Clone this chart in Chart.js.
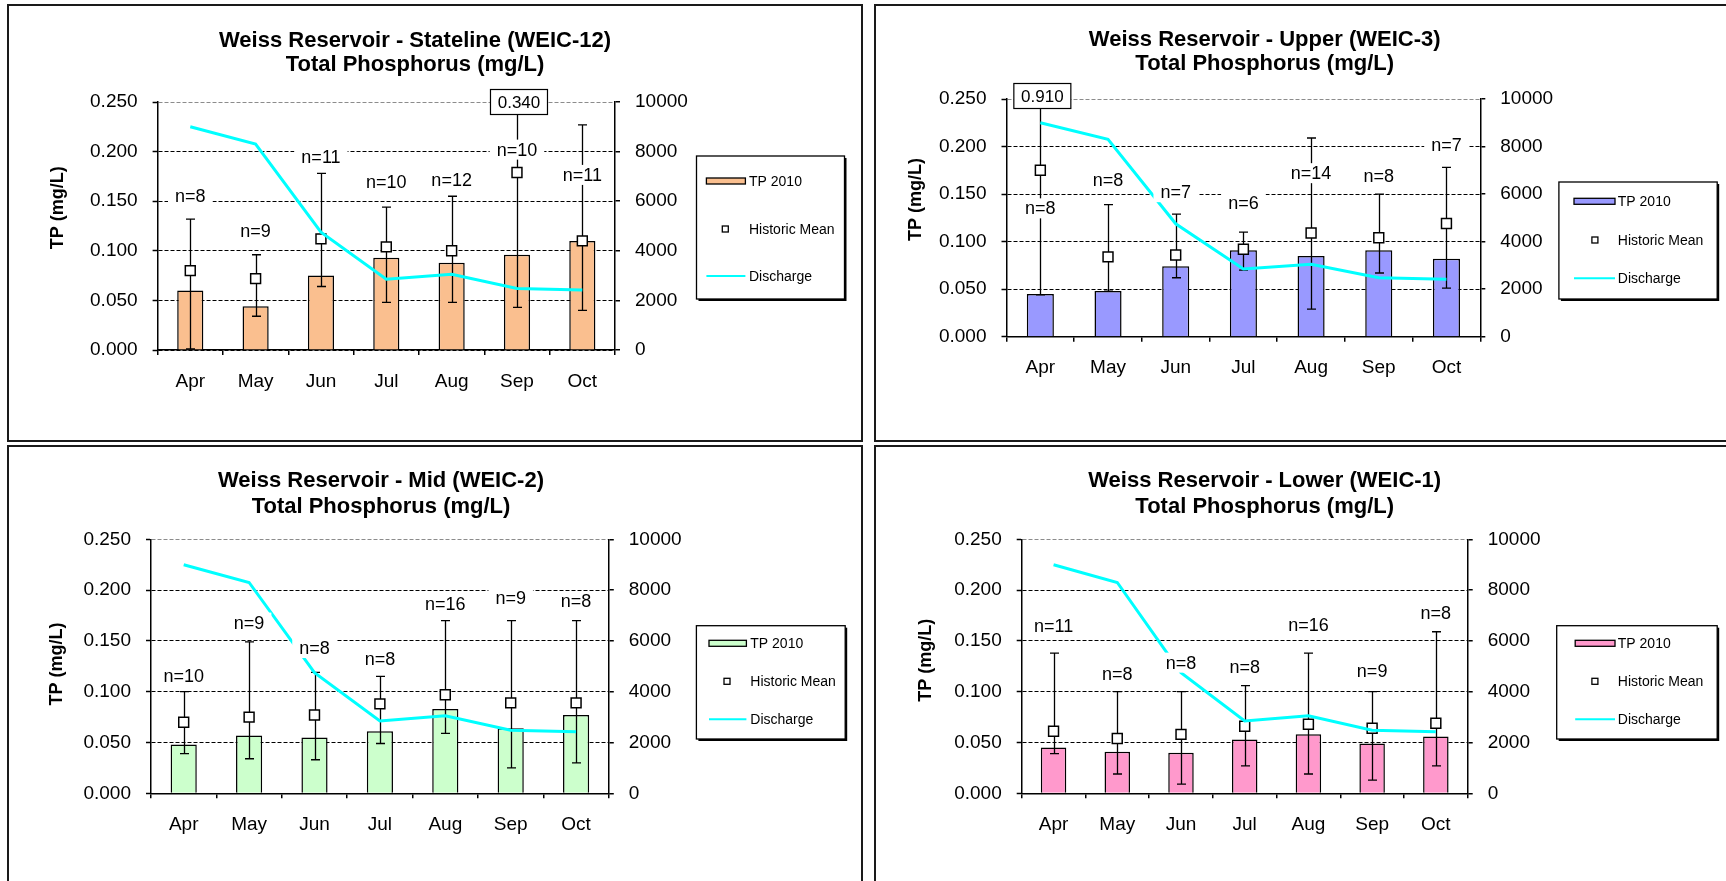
<!DOCTYPE html>
<html>
<head>
<meta charset="utf-8">
<title>Weiss Reservoir - Total Phosphorus 2010</title>
<script src="https://cdn.jsdelivr.net/npm/chart.js"></script>
<style>
  html, body { margin: 0; padding: 0; background: #fff; overflow: hidden; width: 1726px; height: 881px; }
  .panel { position: absolute; border: 2px solid #1a1a1a; box-sizing: border-box; }
  .panel canvas { position: absolute; left: -2px; top: -2px; }
</style>
</head>
<body>
<div class="panel" style="left:7px;top:4px;width:856px;height:438px"><canvas id="c12" width="856" height="438"></canvas></div>
<div class="panel" style="left:874px;top:4px;width:860px;height:438px"><canvas id="c3" width="860" height="438"></canvas></div>
<div class="panel" style="left:7px;top:445px;width:856px;height:440px"><canvas id="c2" width="856" height="440"></canvas></div>
<div class="panel" style="left:874px;top:445px;width:860px;height:440px"><canvas id="c1" width="860" height="440"></canvas></div>

<script>
// ---- data ----------------------------------------------------------------
const months = ['Apr', 'May', 'Jun', 'Jul', 'Aug', 'Sep', 'Oct'];
const tpTicks = [0, 0.05, 0.10, 0.15, 0.20, 0.25];          // mg/L, left axis
const flowTicks = [0, 2000, 4000, 6000, 8000, 10000];        // cfs, right axis

// monthly mean discharge (cfs)
const discharge = [9000, 8300, 4750, 2850, 3050, 2480, 2420];

// Stateline (WEIC-12)
const tp2010_WEIC12   = [0.060, 0.044, 0.075, 0.093, 0.088, 0.096, 0.110];
const histMean_WEIC12 = [0.080, 0.072, 0.112, 0.104, 0.100, 0.179, 0.110];
const histMin_WEIC12  = [0.001, 0.034, 0.064, 0.048, 0.048, 0.043, 0.040];
const histMax_WEIC12  = [0.132, 0.096, 0.178, 0.144, 0.155, 0.340, 0.227];
const nHist_WEIC12    = [8, 9, 11, 10, 12, 10, 11];

// Upper (WEIC-3)
const tp2010_WEIC3   = [0.045, 0.048, 0.074, 0.091, 0.085, 0.091, 0.082];
const histMean_WEIC3 = [0.175, 0.084, 0.086, 0.092, 0.109, 0.104, 0.119];
const histMin_WEIC3  = [0.044, 0.048, 0.062, 0.070, 0.029, 0.067, 0.051];
const histMax_WEIC3  = [0.910, 0.139, 0.129, 0.110, 0.209, 0.150, 0.178];
const nHist_WEIC3    = [8, 8, 7, 6, 14, 8, 7];

// Mid (WEIC-2)
const tp2010_WEIC2   = [0.048, 0.057, 0.055, 0.061, 0.083, 0.064, 0.077];
const histMean_WEIC2 = [0.070, 0.075, 0.077, 0.088, 0.097, 0.089, 0.089];
const histMin_WEIC2  = [0.039, 0.034, 0.033, 0.049, 0.059, 0.025, 0.030];
const histMax_WEIC2  = [0.100, 0.149, 0.119, 0.115, 0.170, 0.170, 0.170];
const nHist_WEIC2    = [10, 9, 8, 8, 16, 9, 8];

// Lower (WEIC-1)
const tp2010_WEIC1   = [0.045, 0.041, 0.040, 0.053, 0.058, 0.049, 0.056];
const histMean_WEIC1 = [0.061, 0.054, 0.058, 0.066, 0.068, 0.064, 0.069];
const histMin_WEIC1  = [0.039, 0.019, 0.009, 0.027, 0.019, 0.013, 0.027];
const histMax_WEIC1  = [0.138, 0.100, 0.100, 0.106, 0.138, 0.100, 0.159];
const nHist_WEIC1    = [11, 8, 8, 8, 16, 9, 8];

// ---- panel layout ---------------------------------------------------------
const FONT = '"Liberation Sans", Arial, Helvetica, sans-serif';
Chart.defaults.font.family = FONT;
Chart.defaults.color = '#000';

const panels = [
  { canvas: 'c12', title: ['Weiss Reservoir - Stateline (WEIC-12)', 'Total Phosphorus (mg/L)'],
    tp: tp2010_WEIC12, mean: histMean_WEIC12, lo: histMin_WEIC12, hi: histMax_WEIC12, n: nHist_WEIC12,
    nAt: [0.155, 0.120, 0.195, 0.169, 0.171, 0.202, 0.1765],
    fill: '#FABF8F',
    area: { left: 150.6, right: 608, top: 98, bottom: 346 },
    titleX: 408, titleY: [36.7, 60.5], yTitle: { x: 50.7, y: 203.8 }, boxDy: 0,
    legend: { x: 689.5, y: 152, w: 148, h: 143, rows: [177, 225, 272], swX: 699.4, swW: 39, textX: 742, markX: 718.3 } },
  { canvas: 'c3', title: ['Weiss Reservoir - Upper (WEIC-3)', 'Total Phosphorus (mg/L)'],
    tp: tp2010_WEIC3, mean: histMean_WEIC3, lo: histMin_WEIC3, hi: histMax_WEIC3, n: nHist_WEIC3,
    nAt: [0.135, 0.165, 0.152, 0.141, 0.172, 0.169, 0.202],
    fill: '#9999FF',
    area: { left: 132.5, right: 606.3, top: 95, bottom: 332.7 },
    titleX: 390.7, titleY: [36, 60], yTitle: { x: 41.8, y: 195.5 }, boxDy: -3,
    legend: { x: 684.9, y: 178, w: 158.3, h: 117, rows: [197.3, 236, 274.3], swX: 700, swW: 41, textX: 743.8, markX: 720.9 } },
  { canvas: 'c2', title: ['Weiss Reservoir - Mid (WEIC-2)', 'Total Phosphorus (mg/L)'],
    tp: tp2010_WEIC2, mean: histMean_WEIC2, lo: histMin_WEIC2, hi: histMax_WEIC2, n: nHist_WEIC2,
    nAt: [0.1155, 0.168, 0.143, 0.132, 0.186, 0.1926, 0.189],
    fill: '#CCFFCC',
    area: { left: 144, right: 601.8, top: 94.3, bottom: 348.3 },
    titleX: 374, titleY: [35.7, 61.7], yTitle: { x: 50, y: 219 }, boxDy: 0,
    legend: { x: 689.4, y: 180.7, w: 148.8, h: 113.3, rows: [198.3, 236.3, 274.3], swX: 702, swW: 37.4, textX: 743.3, markX: 720 } },
  { canvas: 'c1', title: ['Weiss Reservoir - Lower (WEIC-1)', 'Total Phosphorus (mg/L)'],
    tp: tp2010_WEIC1, mean: histMean_WEIC1, lo: histMin_WEIC1, hi: histMax_WEIC1, n: nHist_WEIC1,
    nAt: [0.165, 0.117, 0.1286, 0.124, 0.166, 0.120, 0.1775],
    fill: '#FF99CC',
    area: { left: 147.7, right: 593.7, top: 94.3, bottom: 348.3 },
    titleX: 390.7, titleY: [35.7, 61.7], yTitle: { x: 52.2, y: 215.3 }, boxDy: 0,
    legend: { x: 682.7, y: 180.7, w: 160.5, h: 113.3, rows: [198.3, 236.3, 274.3], swX: 701.2, swW: 39.8, textX: 743.8, markX: 720.9 } }
];

// Error bars, sample-count labels, off-scale values, titles and legend
function decor(p) {
  return {
    id: 'decor',
    beforeDatasetDraw(chart, args) {
      if (args.index !== 1) return;               // draw under the mean markers
      const { ctx, chartArea: a, scales: { x, y } } = chart;
      ctx.save();
      ctx.strokeStyle = '#000';
      ctx.lineWidth = 1.3;
      p.lo.forEach((lo, i) => {
        const cx = Math.round(x.getPixelForValue(i)) + 0.5;
        const yLo = y.getPixelForValue(lo);
        const over = p.hi[i] > y.max;
        const yHi = over ? a.top : y.getPixelForValue(p.hi[i]);
        ctx.beginPath();
        ctx.moveTo(cx, yLo); ctx.lineTo(cx, yHi);
        ctx.moveTo(cx - 4.5, yLo); ctx.lineTo(cx + 4.5, yLo);
        if (!over) { ctx.moveTo(cx - 4.5, yHi); ctx.lineTo(cx + 4.5, yHi); }
        ctx.stroke();
      });
      ctx.restore();
    },
    afterDatasetsDraw(chart) {
      const { ctx, chartArea: a, scales: { x, y } } = chart;
      ctx.save();
      ctx.textAlign = 'center';
      ctx.textBaseline = 'middle';
      ctx.font = '18px ' + FONT;
      p.n.forEach((n, i) => {
        const t = 'n=' + n;
        const cx = x.getPixelForValue(i);
        const cy = y.getPixelForValue(p.nAt[i]);
        const w = ctx.measureText(t).width + 14;
        ctx.fillStyle = '#fff';
        ctx.fillRect(cx - w / 2, cy - 10, w, 20);
        ctx.fillStyle = '#000';
        ctx.fillText(t, cx, cy + 1);
      });
      // maxima above the axis limit are written in a box at the top
      ctx.font = '17px ' + FONT;
      p.hi.forEach((v, i) => {
        if (v <= y.max) return;
        const cx = x.getPixelForValue(i) + 2;
        const cy = a.top + p.boxDy;
        const w = 57, h = 25;
        ctx.fillStyle = '#fff';
        ctx.fillRect(cx - w / 2, cy - h / 2, w, h);
        ctx.strokeStyle = '#000';
        ctx.lineWidth = 1.2;
        ctx.strokeRect(cx - w / 2, cy - h / 2, w, h);
        ctx.fillStyle = '#000';
        ctx.fillText(v.toFixed(3), cx, cy + 1);
      });
      ctx.restore();
    },
    afterDraw(chart) {
      const ctx = chart.ctx;
      const ds = chart.data.datasets;
      ctx.save();
      // chart title
      ctx.fillStyle = '#000';
      ctx.textAlign = 'center';
      ctx.textBaseline = 'middle';
      ctx.font = 'bold 22px ' + FONT;
      p.title.forEach((t, k) => ctx.fillText(t, p.titleX, p.titleY[k]));
      // left axis title
      ctx.save();
      ctx.translate(p.yTitle.x, p.yTitle.y);
      ctx.rotate(-Math.PI / 2);
      ctx.font = 'bold 18px ' + FONT;
      ctx.fillText('TP (mg/L)', 0, 0);
      ctx.restore();
      // legend
      const L = p.legend;
      ctx.fillStyle = '#000';
      ctx.fillRect(L.x + 2, L.y + 2, L.w, L.h);
      ctx.fillStyle = '#fff';
      ctx.fillRect(L.x, L.y, L.w, L.h);
      ctx.strokeStyle = '#000';
      ctx.lineWidth = 1.3;
      ctx.strokeRect(L.x, L.y, L.w, L.h);
      // bar swatch
      ctx.fillStyle = ds[0].backgroundColor;
      ctx.fillRect(L.swX, L.rows[0] - 3, L.swW, 6);
      ctx.strokeRect(L.swX, L.rows[0] - 3, L.swW, 6);
      // mean marker
      ctx.fillStyle = '#fff';
      ctx.lineWidth = 1.3;
      ctx.fillRect(L.markX - 3, L.rows[1] - 3, 6, 6);
      ctx.strokeRect(L.markX - 3, L.rows[1] - 3, 6, 6);
      // discharge line
      ctx.strokeStyle = ds[2].borderColor;
      ctx.lineWidth = 2;
      ctx.beginPath();
      ctx.moveTo(L.swX, L.rows[2]);
      ctx.lineTo(L.swX + L.swW, L.rows[2]);
      ctx.stroke();
      ctx.fillStyle = '#000';
      ctx.textAlign = 'left';
      ctx.font = '14px ' + FONT;
      ds.forEach((d, k) => ctx.fillText(d.label, L.textX, L.rows[k] + 1));
      ctx.restore();
    }
  };
}

function build(p) {
  const cv = document.getElementById(p.canvas);
  const W = cv.width, H = cv.height, A = p.area;
  return new Chart(cv, {
    type: 'bar',
    data: {
      labels: months,
      datasets: [
        { type: 'bar', label: 'TP 2010', data: p.tp, yAxisID: 'y', order: 3,
          backgroundColor: p.fill, borderColor: '#000', borderWidth: 1.5,
          barPercentage: 0.4, categoryPercentage: 1 },
        { type: 'line', label: 'Historic Mean', data: p.mean, yAxisID: 'y', order: 2,
          showLine: false, pointStyle: 'rect', pointRadius: 7,
          pointBackgroundColor: '#fff', pointBorderColor: '#000', pointBorderWidth: 1.5 },
        { type: 'line', label: 'Discharge', data: discharge, yAxisID: 'y2', order: 1,
          borderColor: '#00FFFF', borderWidth: 3, pointRadius: 0, tension: 0 }
      ]
    },
    options: {
      responsive: false,
      devicePixelRatio: 1,
      animation: false,
      layout: { padding: { top: A.top, left: 0, right: 0, bottom: 0 } },
      plugins: { legend: { display: false }, title: { display: false }, tooltip: { enabled: false } },
      scales: {
        x: {
          offset: true,
          grid: { offset: true, drawOnChartArea: false, drawTicks: true, tickLength: 5, color: '#000', lineWidth: 1.5 },
          border: { display: true, color: '#000', width: 1.5 },
          ticks: { font: { size: 19 }, color: '#000', padding: 15, maxRotation: 0, autoSkip: false },
          afterFit(s) { s.height = H - A.bottom; }
        },
        y: {
          position: 'left', min: tpTicks[0], max: tpTicks[tpTicks.length - 1],
          afterBuildTicks(s) { s.ticks = tpTicks.map(v => ({ value: v })); },
          ticks: { font: { size: 19 }, color: '#000', padding: 15, callback: v => v.toFixed(3) },
          grid: { color: c => (c.tick && c.tick.value > 0.24 ? '#8c8c8c' : '#000'), lineWidth: 1,
                  tickLength: 5, tickColor: '#000', tickWidth: 1.5 },
          border: { display: true, color: '#000', width: 1.5, dash: [4, 2] },
          afterFit(s) { s.width = A.left; }
        },
        y2: {
          position: 'right', min: flowTicks[0], max: flowTicks[flowTicks.length - 1],
          afterBuildTicks(s) { s.ticks = flowTicks.map(v => ({ value: v })); },
          ticks: { font: { size: 19 }, color: '#000', padding: 15, callback: v => String(v) },
          grid: { drawOnChartArea: false, tickLength: 5, color: '#000', lineWidth: 1.5 },
          border: { display: true, color: '#000', width: 1.5 },
          afterFit(s) { s.width = W - A.right; }
        }
      }
    },
    plugins: [decor(p)]
  });
}

panels.forEach(build);
</script>
</body>
</html>
